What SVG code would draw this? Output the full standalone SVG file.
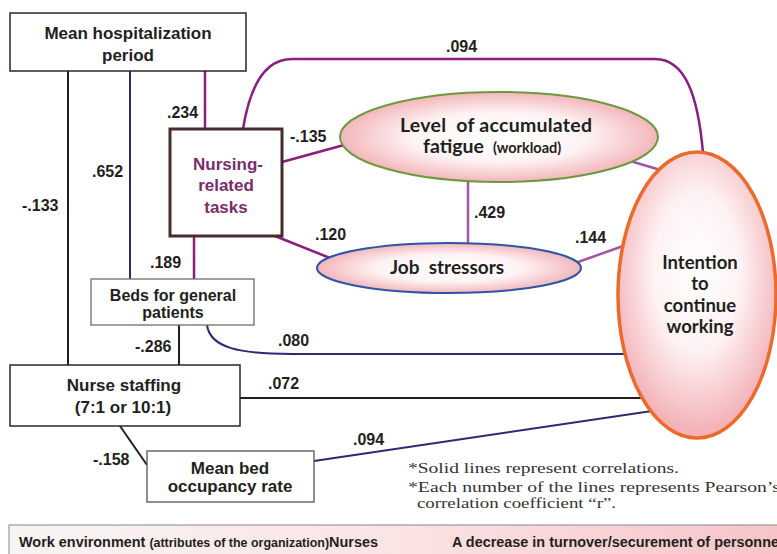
<svg xmlns="http://www.w3.org/2000/svg" width="777" height="554" viewBox="0 0 777 554">
<defs>
<radialGradient id="pinkH" cx="0.5" cy="0.5" r="0.5">
<stop offset="0" stop-color="#ffffff"/>
<stop offset="0.55" stop-color="#fef3f4"/>
<stop offset="1" stop-color="#f3b6bb"/>
</radialGradient>
<radialGradient id="pinkV" cx="0.5" cy="0.42" r="0.55">
<stop offset="0" stop-color="#ffffff"/>
<stop offset="0.5" stop-color="#fef2f3"/>
<stop offset="1" stop-color="#f3b4b9"/>
</radialGradient>
<linearGradient id="bar" x1="0" y1="0" x2="1" y2="0">
<stop offset="0" stop-color="#f8f4f4"/>
<stop offset="0.5" stop-color="#fbe3e4"/>
<stop offset="1" stop-color="#f5c4c7"/>
</linearGradient>
</defs>
<style>
.box{fill:#fff;stroke:#2b2526;stroke-width:1.5}
.sans{font-family:"Liberation Sans",Arial,sans-serif;font-weight:bold;fill:#231f20}
.hum{font-family:Lato,"Open Sans",sans-serif;font-weight:bold;fill:#231f20}
.lbl{font-family:"Liberation Sans",Arial,sans-serif;font-weight:bold;font-size:16px;fill:#231f20}
.note{font-family:"Liberation Serif","Times New Roman",serif;font-size:15.5px;fill:#333}
.c{fill:none}
.blk{stroke:#231f20;stroke-width:2}
.navy{stroke:#2e2a72;stroke-width:2}
.pur{stroke:#8b1c80;stroke-width:2.5}
.lpur{stroke:#a455a8;stroke-width:2.5}
.ptxt{fill:#7b2d6b}
</style>

<g id="connectors">
<path class="c blk" d="M68,71 V365"/>
<path class="c navy" d="M130,71 V279"/>
<path class="c pur" d="M205,71 V129"/>
<path class="c pur" stroke-width="2" d="M243,129 C250,85 266,59 292,59 H655 C685,59 698,95 703,153"/>
<path class="c pur" d="M282,162 L344,145"/>
<path class="c pur" d="M275,236 L330,258"/>
<path class="c pur" stroke-width="2" d="M194,236 V279"/>
<path class="c lpur" d="M468,182 V244"/>
<path class="c lpur" stroke-width="1.8" d="M578,262 L626,245"/>
<path class="c lpur" stroke-width="2" d="M630,161 L664,171"/>
<path class="c navy" d="M207,325 C210,348 240,354 292,354 H626"/>
<path class="c blk" d="M179,325 V365"/>
<path class="c blk" stroke-width="3" d="M240,398 H645"/>
<path class="c blk" d="M120,426 L147,465"/>
<path class="c navy" d="M314,461 L652,411"/>
</g>

<g id="edge-labels">
<text class="lbl" x="167" y="118">.234</text>
<text class="lbl" x="92" y="177">.652</text>
<text class="lbl" x="22" y="211">-.133</text>
<text class="lbl" x="290" y="142">-.135</text>
<text class="lbl" x="315" y="240">.120</text>
<text class="lbl" x="150" y="268">.189</text>
<text class="lbl" x="446" y="52">.094</text>
<text class="lbl" x="474" y="218">.429</text>
<text class="lbl" x="575" y="243">.144</text>
<text class="lbl" x="135" y="352">-.286</text>
<text class="lbl" x="278" y="346">.080</text>
<text class="lbl" x="268" y="389">.072</text>
<text class="lbl" x="93" y="465">-.158</text>
<text class="lbl" x="353" y="445">.094</text>
</g>

<g id="mean-hospitalization">
<rect class="box" x="10" y="13" width="236" height="58"/>
<text class="sans" font-size="17" text-anchor="middle" x="128" y="39">Mean hospitalization</text>
<text class="sans" font-size="17" text-anchor="middle" x="128" y="61">period</text>
</g>

<g id="nursing-tasks">
<rect x="170" y="129" width="112" height="107" fill="#fff" stroke="#4a2b2b" stroke-width="3"/>
<text class="sans ptxt" font-size="17" text-anchor="middle" x="228" y="170">Nursing-</text>
<text class="sans ptxt" font-size="17" text-anchor="middle" x="226" y="191">related</text>
<text class="sans ptxt" font-size="17" text-anchor="middle" x="226" y="213">tasks</text>
</g>

<g id="fatigue">
<ellipse cx="499" cy="137" rx="159" ry="45" fill="url(#pinkH)" stroke="#6b9a3c" stroke-width="2"/>
<text class="hum" font-size="19.5" x="400" y="132" textLength="192" lengthAdjust="spacing" xml:space="preserve">Level  of accumulated</text>
<text class="hum" x="423" y="153"><tspan font-size="19.5">fatigue</tspan><tspan font-size="14.5" dx="9">(workload)</tspan></text>
</g>

<g id="job-stressors">
<ellipse cx="449" cy="268" rx="132" ry="25" fill="url(#pinkH)" stroke="#2a55a8" stroke-width="2"/>
<text class="hum" font-size="19" text-anchor="middle" x="447" y="274" xml:space="preserve">Job  stressors</text>
</g>

<g id="intention">
<ellipse cx="697" cy="295" rx="79" ry="143" fill="url(#pinkV)" stroke="#ec6a2b" stroke-width="3.5"/>
<text class="hum" font-size="18.5" text-anchor="middle" x="700" y="269">Intention</text>
<text class="hum" font-size="18.5" text-anchor="middle" x="700" y="290">to</text>
<text class="hum" font-size="18.5" text-anchor="middle" x="700" y="312">continue</text>
<text class="hum" font-size="18.5" text-anchor="middle" x="700" y="333">working</text>
</g>

<g id="beds">
<rect x="91" y="279" width="163" height="46" fill="#fff" stroke="#6d6d6d" stroke-width="1.3"/>
<text class="sans" font-size="16" text-anchor="middle" x="173" y="301">Beds for general</text>
<text class="sans" font-size="16" text-anchor="middle" x="173" y="318">patients</text>
</g>

<g id="nurse-staffing">
<rect class="box" x="10" y="365" width="230" height="61"/>
<text class="sans" font-size="17" text-anchor="middle" x="124" y="391">Nurse staffing</text>
<text class="sans" font-size="17" text-anchor="middle" x="123" y="413">(7:1 or 10:1)</text>
</g>

<g id="bed-occupancy">
<rect x="147" y="451" width="167" height="51" fill="#fff" stroke="#555" stroke-width="1.3"/>
<text class="sans" font-size="17" text-anchor="middle" x="230" y="474">Mean bed</text>
<text class="sans" font-size="17" text-anchor="middle" x="230" y="492">occupancy rate</text>
</g>

<g id="notes">
<text class="note" x="408" y="473" textLength="271" lengthAdjust="spacingAndGlyphs">*Solid lines represent correlations.</text>
<text class="note" x="408" y="492" textLength="372" lengthAdjust="spacingAndGlyphs">*Each number of the lines represents Pearson’s</text>
<text class="note" x="417" y="508" textLength="199" lengthAdjust="spacingAndGlyphs">correlation coefficient “r”.</text>
</g>

<g id="bottom-bar">
<rect x="9" y="525" width="780" height="40" fill="url(#bar)" stroke="#9a9a9a" stroke-width="1.2"/>
<text class="sans" font-size="14.5" x="19" y="547" textLength="359" lengthAdjust="spacingAndGlyphs">Work environment <tspan font-size="12.5">(attributes of the organization)</tspan>Nurses</text>
<text class="sans" font-size="14.5" x="452" y="547" textLength="331" lengthAdjust="spacingAndGlyphs">A decrease in turnover/securement of personnel</text>
</g>
</svg>
